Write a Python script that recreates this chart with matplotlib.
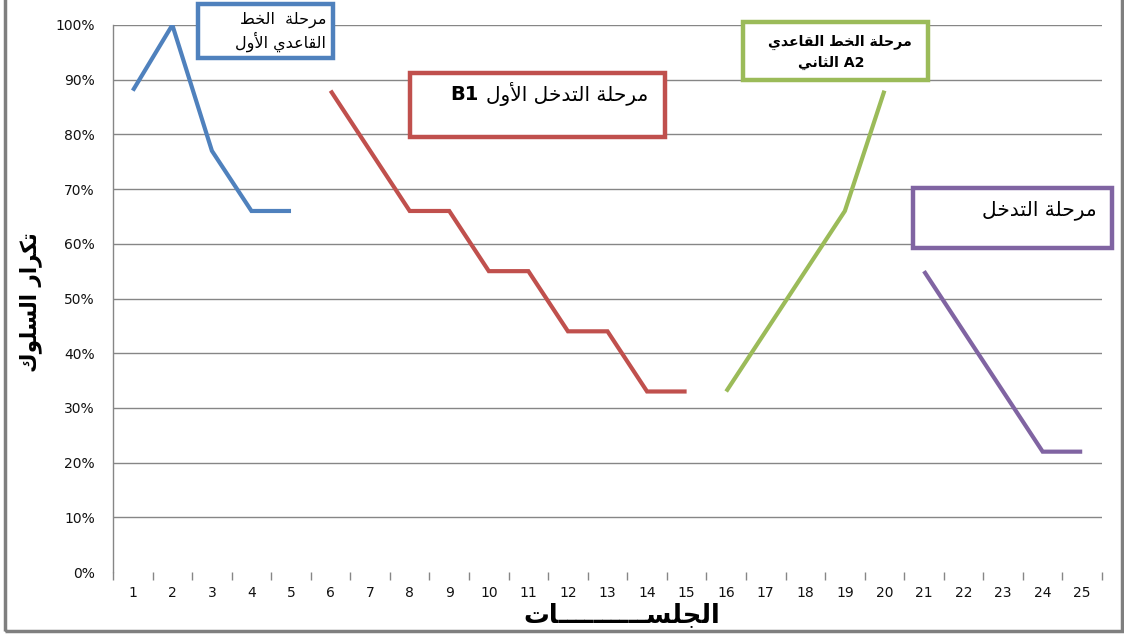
import matplotlib
matplotlib.use("Agg")
import matplotlib.pyplot as plt
from matplotlib.patches import Rectangle

# ---------------------------------------------------------------- data
sessions = list(range(1, 26))
baseline_a1_x = [1, 2, 3, 4, 5]
baseline_a1_y = [88, 100, 77, 66, 66]
intervention_b1_x = [6, 7, 8, 9, 10, 11, 12, 13, 14, 15]
intervention_b1_y = [88, 77, 66, 66, 55, 55, 44, 44, 33, 33]
baseline_a2_x = [16, 17, 18, 19, 20]
baseline_a2_y = [33, 44, 55, 66, 88]
intervention_b2_x = [21, 22, 23, 24, 25]
intervention_b2_y = [55, 44, 33, 22, 22]
y_ticks = [0, 10, 20, 30, 40, 50, 60, 70, 80, 90, 100]

label_a1 = ["مرحلة  الخط", "القاعدي الأول"]
label_b1 = "مرحلة التدخل الأول"
code_b1 = "B1"
label_a2 = ["مرحلة الخط القاعدي", "الثاني A2"]
label_b2 = ["مرحلة التدخل"]
y_title = "تكرار السلوك"
x_title = "الجلســــــــــات"

# ---------------------------------------------------------------- arabic shaping
# (isolated, final, initial, medial) presentation forms
FORMS = {
    '\u0627': ('\uFE8D', '\uFE8E', None, None),
    '\u0623': ('\uFE83', '\uFE84', None, None),
    '\u062A': ('\uFE95', '\uFE96', '\uFE97', '\uFE98'),
    '\u062B': ('\uFE99', '\uFE9A', '\uFE9B', '\uFE9C'),
    '\u062C': ('\uFE9D', '\uFE9E', '\uFE9F', '\uFEA0'),
    '\u062D': ('\uFEA1', '\uFEA2', '\uFEA3', '\uFEA4'),
    '\u062E': ('\uFEA5', '\uFEA6', '\uFEA7', '\uFEA8'),
    '\u062F': ('\uFEA9', '\uFEAA', None, None),
    '\u0631': ('\uFEAD', '\uFEAE', None, None),
    '\u0633': ('\uFEB1', '\uFEB2', '\uFEB3', '\uFEB4'),
    '\u0637': ('\uFEC1', '\uFEC2', '\uFEC3', '\uFEC4'),
    '\u0639': ('\uFEC9', '\uFECA', '\uFECB', '\uFECC'),
    '\u0642': ('\uFED5', '\uFED6', '\uFED7', '\uFED8'),
    '\u0643': ('\uFED9', '\uFEDA', '\uFEDB', '\uFEDC'),
    '\u0644': ('\uFEDD', '\uFEDE', '\uFEDF', '\uFEE0'),
    '\u0645': ('\uFEE1', '\uFEE2', '\uFEE3', '\uFEE4'),
    '\u0646': ('\uFEE5', '\uFEE6', '\uFEE7', '\uFEE8'),
    '\u0629': ('\uFE93', '\uFE94', None, None),
    '\u0648': ('\uFEED', '\uFEEE', None, None),
    '\u064A': ('\uFEF1', '\uFEF2', '\uFEF3', '\uFEF4'),
    '\u0640': ('\u0640', '\u0640', '\u0640', '\u0640'),
}
LAM_ALEF = {'\u0627': ('\uFEFB', '\uFEFC'), '\u0623': ('\uFEF7', '\uFEF8')}


def shape_word(word):
    units = []
    i = 0
    while i < len(word):
        c = word[i]
        if c == '\u0644' and i + 1 < len(word) and word[i + 1] in LAM_ALEF:
            units.append(('LA', word[i + 1]))
            i += 2
        else:
            units.append(('C', c))
            i += 1

    def joins_next(u):
        if u[0] == 'LA':
            return False
        f = FORMS.get(u[1])
        return f is not None and f[2] is not None

    def joins_prev(u):
        return u[0] == 'LA' or u[1] in FORMS

    out = []
    for k, u in enumerate(units):
        pj = k > 0 and joins_next(units[k - 1]) and joins_prev(u)
        nj = k + 1 < len(units) and joins_next(u) and joins_prev(units[k + 1])
        if u[0] == 'LA':
            out.append(LAM_ALEF[u[1]][1 if pj else 0])
            continue
        f = FORMS.get(u[1])
        if f is None:
            out.append(u[1])
        elif pj and nj:
            out.append(f[3])
        elif pj:
            out.append(f[1])
        elif nj:
            out.append(f[2])
        else:
            out.append(f[0])
    return ''.join(out)


def visual(text, rtl=True):
    vis = []
    for w in text.split(' '):
        if any('\u0600' <= ch <= '\u06FF' for ch in w):
            vis.append(shape_word(w)[::-1])
        else:
            vis.append(w)
    if rtl:
        vis = vis[::-1]
    return ' '.join(vis)


# ---------------------------------------------------------------- figure
W, H = 1124, 638
fig = plt.figure(figsize=(W / 100, H / 100), dpi=100)
fig.patch.set_facecolor('white')


def fx(px):
    return px / W


def fy(py):
    return 1 - py / H


ax = fig.add_axes([fx(113), fy(572), fx(1102) - fx(113), fy(25) - fy(572)])
ax.set_xlim(0.5, 25.5)
ax.set_ylim(0, 100)

grid_c = '#868686'
for v in y_ticks[1:]:
    ax.axhline(v, color=grid_c, lw=1.0, zorder=1)

for s in ['top', 'right', 'bottom']:
    ax.spines[s].set_visible(False)
ax.spines['left'].set_color(grid_c)
ax.spines['left'].set_linewidth(1.0)

ax.set_yticks(y_ticks)
ax.set_yticklabels([f"{v}%" for v in y_ticks])
ax.tick_params(axis='y', length=0, pad=13, labelsize=10, labelcolor='#111111')

ax.set_xticks(sessions)
ax.set_xticklabels([str(s) for s in sessions])
ax.tick_params(axis='x', length=0, pad=10, labelsize=10, labelcolor='#111111')
# category separators below the plot
ax.set_xticks([s + 0.5 for s in [0] + sessions], minor=True)
ax.tick_params(axis='x', which='minor', length=6, width=1.0, color=grid_c,
               direction='out')

lw = 3.0
for xs, ys, c in [(baseline_a1_x, baseline_a1_y, '#4F81BD'),
                  (intervention_b1_x, intervention_b1_y, '#C0504D'),
                  (baseline_a2_x, baseline_a2_y, '#9BBB59'),
                  (intervention_b2_x, intervention_b2_y, '#8064A2')]:
    ax.plot(xs, ys, color=c, lw=lw, zorder=3, solid_joinstyle='miter',
            solid_capstyle='butt')

# ---------------------------------------------------------------- phase boxes


def box(x0, y0, x1, y1, color):
    fig.add_artist(Rectangle((fx(x0), fy(y1)), fx(x1) - fx(x0), fy(y0) - fy(y1),
                             transform=fig.transFigure, facecolor='white',
                             edgecolor=color, lw=3.2, zorder=5))


def box_text(s, tx, ty, size, bold=False, rtl=True):
    return fig.text(fx(tx), fy(ty), visual(s, rtl), ha='right', va='center',
                    fontsize=size, fontweight='bold' if bold else 'normal',
                    family='DejaVu Sans', color='black', zorder=6)


box(198, 4, 333, 58, '#4F81BD')
box_text(label_a1[0], 326, 20, 11.5)
box_text(label_a1[1], 326, 42, 11.5)

box(410, 73, 665, 137, '#C0504D')
t_b1 = box_text(label_b1, 648, 94, 14.5)
renderer = fig.canvas.get_renderer()
left_px = t_b1.get_window_extent(renderer).x0
fig.text((left_px - 7) / W, fy(94), code_b1, ha='right', va='center',
         fontsize=14, fontweight='bold', family='DejaVu Sans', zorder=6)

box(743, 22, 928, 80, '#9BBB59')
box_text(label_a2[0], 912, 42, 10.2, bold=True)
box_text(label_a2[1], 864, 63, 10.2, bold=True, rtl=False)

box(913, 188, 1112, 248, '#8064A2')
box_text(label_b2[0], 1097, 210, 14.5)

# ---------------------------------------------------------------- axis titles
fig.text(fx(31), fy(302), visual(y_title), rotation=90, ha='center',
         va='center', fontsize=15.5, fontweight='bold', family='DejaVu Sans')
fig.text(fx(622), fy(615), visual(x_title), ha='center', va='center',
         fontsize=18.5, fontweight='bold', family='DejaVu Sans')

# ---------------------------------------------------------------- outer frame
fig.add_artist(Rectangle((fx(5), fy(631)), fx(1122) - fx(5), 1.2,
                         transform=fig.transFigure, facecolor='none',
                         edgecolor='#7F7F7F', lw=2.5, zorder=10))

fig.savefig('out.png', dpi=100, facecolor='white')
